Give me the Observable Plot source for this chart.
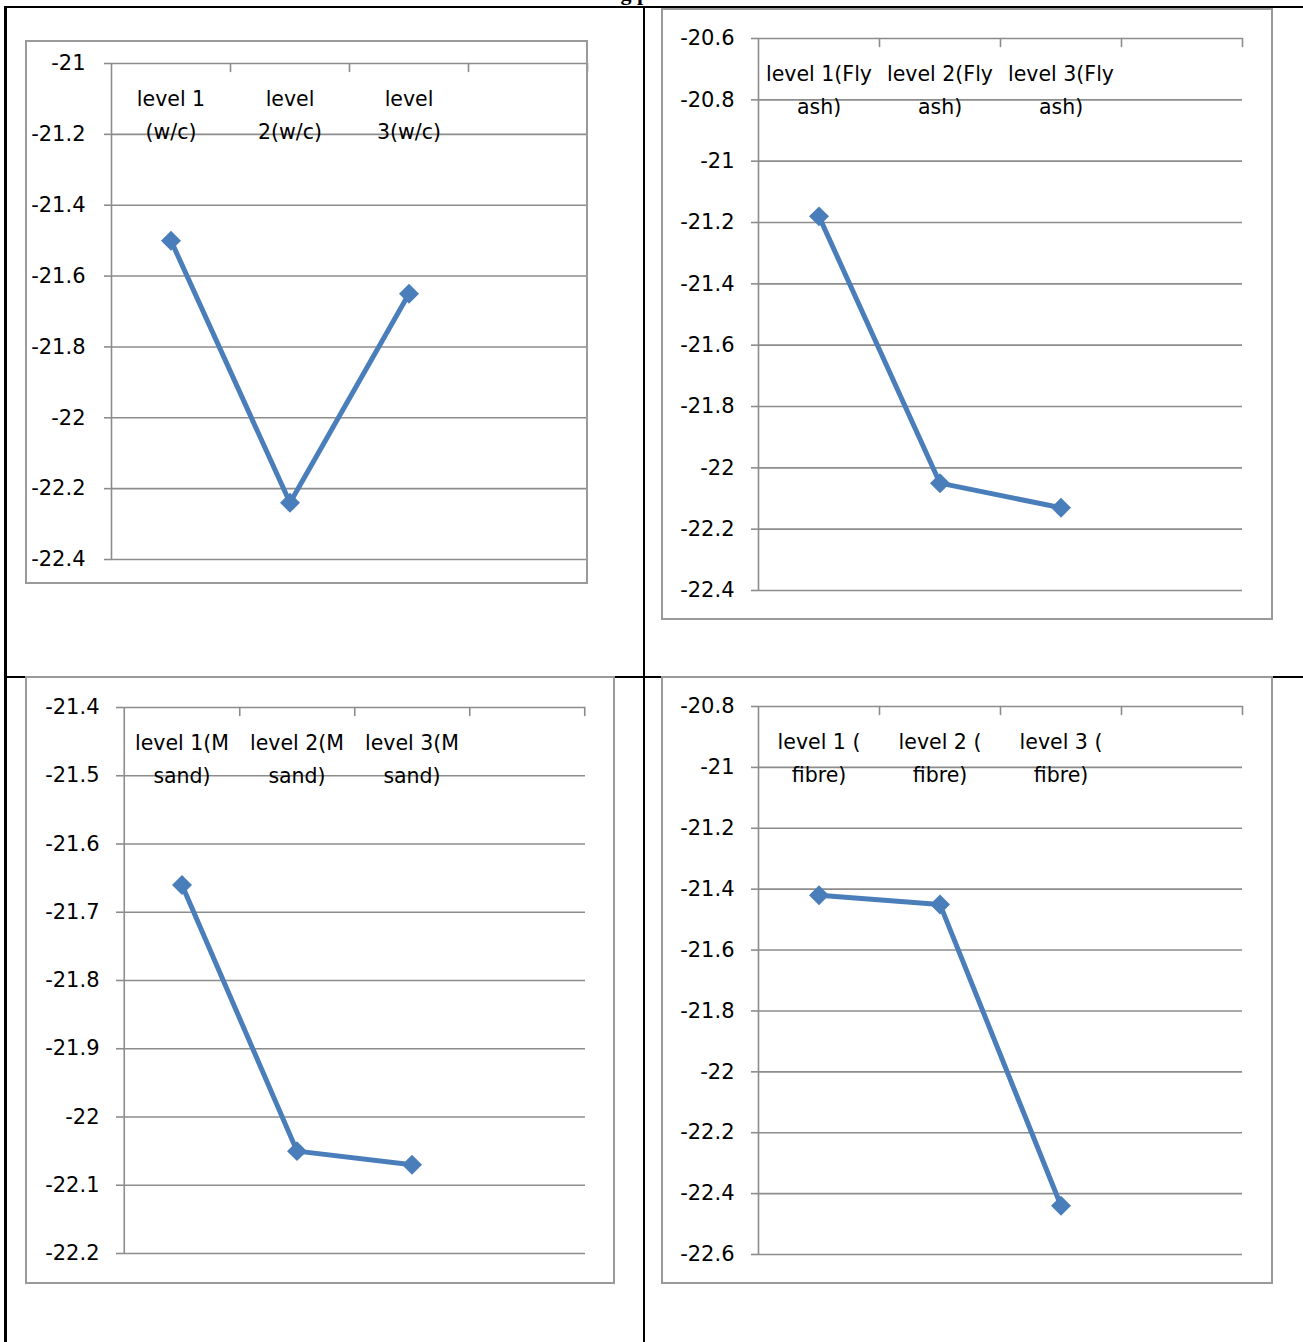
<!DOCTYPE html>
<html>
<head>
<meta charset="utf-8">
<script src="https://cdn.jsdelivr.net/npm/d3@7"></script>
<script src="https://cdn.jsdelivr.net/npm/@observablehq/plot@0.6"></script>
<style>
html, body { margin: 0; padding: 0; background: #fff; }
#page { position: relative; width: 1303px; height: 1342px; overflow: hidden; background: #fff; font-family: "DejaVu Sans", sans-serif; }
.line { position: absolute; background: #000; }
.box { position: absolute; background: #fff; }
.box .frame { position: absolute; left: 0; top: 0; right: 0; bottom: 0; border: 2px solid #9a9a9a; box-sizing: border-box; pointer-events: none; }
.box svg { position: absolute; left: 0; top: 0; overflow: visible; }
#title { position: absolute; left: 0; width: 1320px; top: -18px; text-align: center; font: bold 22px "Liberation Serif", serif; line-height: 1; white-space: nowrap; }
</style>
</head>
<body>
<div id="page">
  <div id="title">Table 6: Charts showing parameters levels vs S/N ratio</div>
  <div class="line" style="left:4px; top:6px; width:1299px; height:2px;"></div>
  <div class="line" style="left:4px; top:6px; width:3px; height:1336px;"></div>
  <div class="line" style="left:643px; top:6px; width:2px; height:1336px;"></div>
  <div class="line" style="left:4px; top:676px; width:1299px; height:2px;"></div>
</div>
<script>
// ---- data ----
const wcLevels = ["level 1\n(w/c)", "level\n2(w/c)", "level\n3(w/c)"];
const wcSN = [-21.50, -22.24, -21.65];
const wcTicks = [-21, -21.2, -21.4, -21.6, -21.8, -22, -22.2, -22.4];

const flyAshLevels = ["level 1(Fly\nash)", "level 2(Fly\nash)", "level 3(Fly\nash)"];
const flyAshSN = [-21.18, -22.05, -22.13];
const flyAshTicks = [-20.6, -20.8, -21, -21.2, -21.4, -21.6, -21.8, -22, -22.2, -22.4];

const mSandLevels = ["level 1(M\nsand)", "level 2(M\nsand)", "level 3(M\nsand)"];
const mSandSN = [-21.66, -22.05, -22.07];
const mSandTicks = [-21.4, -21.5, -21.6, -21.7, -21.8, -21.9, -22, -22.1, -22.2];

const fibreLevels = ["level 1 (\nfibre)", "level 2 (\nfibre)", "level 3 (\nfibre)"];
const fibreSN = [-21.42, -21.45, -22.44];
const fibreTicks = [-20.8, -21, -21.2, -21.4, -21.6, -21.8, -22, -22.2, -22.4, -22.6];

const lineBlue = "#4a7ebb";
const gridGray = "#8c8c8c";

function makeChart(levels, sn, ticks, box) {
  const slots = [...levels, ""]; // Excel keeps a 4th empty category slot
  const bw = (box.width - box.ml - box.mr) / slots.length;
  const rows = levels.map((level, i) => ({level, sn: sn[i]}));
  const tickShape = {draw(context, l) { context.moveTo(0, 0); context.lineTo(0, -l); }};
  const svg = Plot.plot({
    width: box.width,
    height: box.height,
    marginTop: box.mt,
    marginRight: box.mr,
    marginBottom: box.mb,
    marginLeft: box.ml,
    style: {fontFamily: "DejaVu Sans", fontSize: "21px", background: "transparent", color: "#000", overflow: "visible"},
    x: {type: "band", domain: slots, padding: 0, axis: null},
    y: {domain: d3.extent(ticks), axis: null, label: null},
    marks: [
      Plot.gridY(ticks, {stroke: gridGray, strokeOpacity: 1, strokeWidth: 1.6}),
      Plot.ruleX([slots[0]], {dx: -bw / 2, stroke: gridGray, strokeWidth: 1.6}),
      Plot.axisY(ticks, {label: null, tickSize: 7, tickPadding: box.pad, tickFormat: d => String(d), stroke: gridGray, strokeWidth: 1.6, fill: "#000", fontSize: 21}),
      Plot.vector(slots, {x: d => d, frameAnchor: "top", length: 8, rotate: 180, anchor: "start", shape: tickShape, dx: bw / 2, stroke: gridGray, strokeWidth: 1.6}),
      Plot.text(levels, {x: d => d, text: d => d, frameAnchor: "top", lineAnchor: "top", dy: 19, lineHeight: 1.6, fontSize: 20.5, fill: "#000"}),
      Plot.line(rows, {x: "level", y: "sn", stroke: lineBlue, strokeWidth: 5}),
      Plot.dot(rows, {x: "level", y: "sn", symbol: "diamond2", r: 9, fill: lineBlue, stroke: "none"})
    ]
  });
  const div = document.createElement("div");
  div.className = "box";
  div.style.left = box.left + "px";
  div.style.top = box.top + "px";
  div.style.width = box.width + "px";
  div.style.height = box.height + "px";
  div.appendChild(svg);
  const frame = document.createElement("div");
  frame.className = "frame";
  div.appendChild(frame);
  document.getElementById("page").appendChild(div);
}

makeChart(wcLevels, wcSN, wcTicks, {left: 25, top: 40, width: 563, height: 544, mt: 23, mr: 1, mb: 25, ml: 86, pad: 19});
makeChart(flyAshLevels, flyAshSN, flyAshTicks, {left: 661, top: 8, width: 612, height: 612, mt: 30, mr: 31, mb: 30, ml: 97, pad: 17});
makeChart(mSandLevels, mSandSN, mSandTicks, {left: 25, top: 676, width: 590, height: 608, mt: 31, mr: 30, mb: 31, ml: 98, pad: 17});
makeChart(fibreLevels, fibreSN, fibreTicks, {left: 661, top: 676, width: 612, height: 608, mt: 30, mr: 31, mb: 30, ml: 97, pad: 17});
</script>
</body>
</html>
